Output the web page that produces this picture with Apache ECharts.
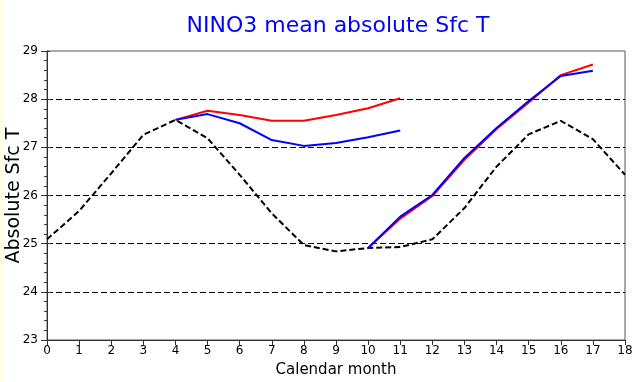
<!DOCTYPE html>
<html>
<head>
<meta charset="utf-8">
<script src="https://cdn.jsdelivr.net/npm/echarts@6/dist/echarts.min.js"></script>
<style>
  html, body { margin: 0; padding: 0; background: #ffffff; }
  #chart { width: 642px; height: 382px; }
</style>
</head>
<body>
<div id="chart"></div>
<script>
// climatology, months 0..18
const climMonths = [0, 1, 2, 3, 4, 5, 6, 7, 8, 9, 10, 11, 12, 13, 14, 15, 16, 17, 18];
const climValues = [25.09, 25.68, 26.46, 27.26, 27.57, 27.19, 26.43, 25.63, 24.97, 24.84, 24.91, 24.93, 25.09, 25.74, 26.6, 27.27, 27.55, 27.17, 26.43];

// first forecast segment
const seg1Months = [4, 5, 6, 7, 8, 9, 10, 11];
const seg1Red = [27.57, 27.76, 27.67, 27.55, 27.55, 27.67, 27.81, 28.02];
const seg1Blue = [27.57, 27.69, 27.5, 27.15, 27.03, 27.09, 27.21, 27.35];

// second forecast segment
const seg2Months = [10, 11, 12, 13, 14, 15, 16, 17];
const seg2Red = [24.91, 25.52, 25.99, 26.74, 27.38, 27.93, 28.5, 28.72];
const seg2Blue = [24.91, 25.56, 26.01, 26.78, 27.4, 27.96, 28.48, 28.59];

const pairs = (xs, ys) => xs.map((x, i) => [x, ys[i]]);

const font = '"DejaVu Sans", "Liberation Sans", sans-serif';

function line(name, data, color, dashed) {
  return {
    type: "line",
    name: name,
    data: data,
    symbol: "none",
    silent: true,
    animation: false,
    lineStyle: {
      color: color,
      width: 2,
      type: dashed ? [6, 3] : "solid",
    },
  };
}

const chart = echarts.init(document.getElementById("chart"), undefined, {
  renderer: "canvas",
});

chart.setOption({
  backgroundColor: "#ffffff",
  animation: false,
  title: {
    text: "NINO3 mean absolute Sfc T",
    left: 333,
    textAlign: "center",
    top: 10,
    textStyle: {
      color: "#0000ff",
      fontFamily: font,
      fontSize: 22,
      fontWeight: "normal",
    },
  },
  graphic: [
    {
      type: "rect",
      left: 0,
      top: 0,
      shape: { width: 4, height: 382 },
      style: { fill: "#ffffe4" },
      silent: true,
    },
  ],
  grid: {
    left: 47,
    right: 17,
    top: 51,
    bottom: 42,
    outerBoundsMode: "none",
    containLabel: false,
    show: true,
    borderColor: "#555555",
    borderWidth: 1,
  },
  xAxis: {
    type: "value",
    min: 0,
    max: 18,
    interval: 1,
    name: "Calendar month",
    nameLocation: "middle",
    nameGap: 23,
    nameMoveOverlap: false,
    nameTextStyle: { color: "#000000", fontFamily: font, fontSize: 15 },
    axisLine: { show: true, lineStyle: { color: "#333333", width: 1 } },
    axisTick: { show: true, length: 5, lineStyle: { color: "#333333" } },
    axisLabel: { color: "#000000", fontFamily: font, fontSize: 12, margin: 5 },
    splitLine: { show: false },
  },
  yAxis: [
    {
      type: "value",
      min: 23,
      max: 29,
      interval: 1,
      name: "Absolute Sfc T",
      nameLocation: "middle",
      nameGap: 23,
      nameMoveOverlap: false,
      nameTextStyle: { color: "#000000", fontFamily: font, fontSize: 19 },
      axisLine: { show: true, lineStyle: { color: "#333333", width: 1 } },
      axisTick: { show: true, length: 6, lineStyle: { color: "#333333" } },
      minorTick: { show: true, splitNumber: 5, length: 3, lineStyle: { color: "#333333" } },
      axisLabel: { color: "#000000", fontFamily: font, fontSize: 12, margin: 9 },
      splitLine: {
        show: true,
        showMinLine: false,
        showMaxLine: false,
        lineStyle: { color: "#000000", width: 1, type: [6, 3] },
      },
    },
    {
      // inner half of the major ticks
      type: "value",
      position: "left",
      offset: 0,
      min: 23,
      max: 29,
      interval: 1,
      axisLine: { show: false },
      axisTick: { show: true, inside: true, length: 3, lineStyle: { color: "#333333" } },
      axisLabel: { show: false },
      splitLine: { show: false },
    },
  ],
  series: [
    line("Climatology", pairs(climMonths, climValues), "#000000", true),
    line("Red forecast 1", pairs(seg1Months, seg1Red), "#ff0000", false),
    line("Blue forecast 1", pairs(seg1Months, seg1Blue), "#0000ff", false),
    line("Red forecast 2", pairs(seg2Months, seg2Red), "#ff0000", false),
    line("Blue forecast 2", pairs(seg2Months, seg2Blue), "#0000ff", false),
  ],
});
</script>
</body>
</html>
